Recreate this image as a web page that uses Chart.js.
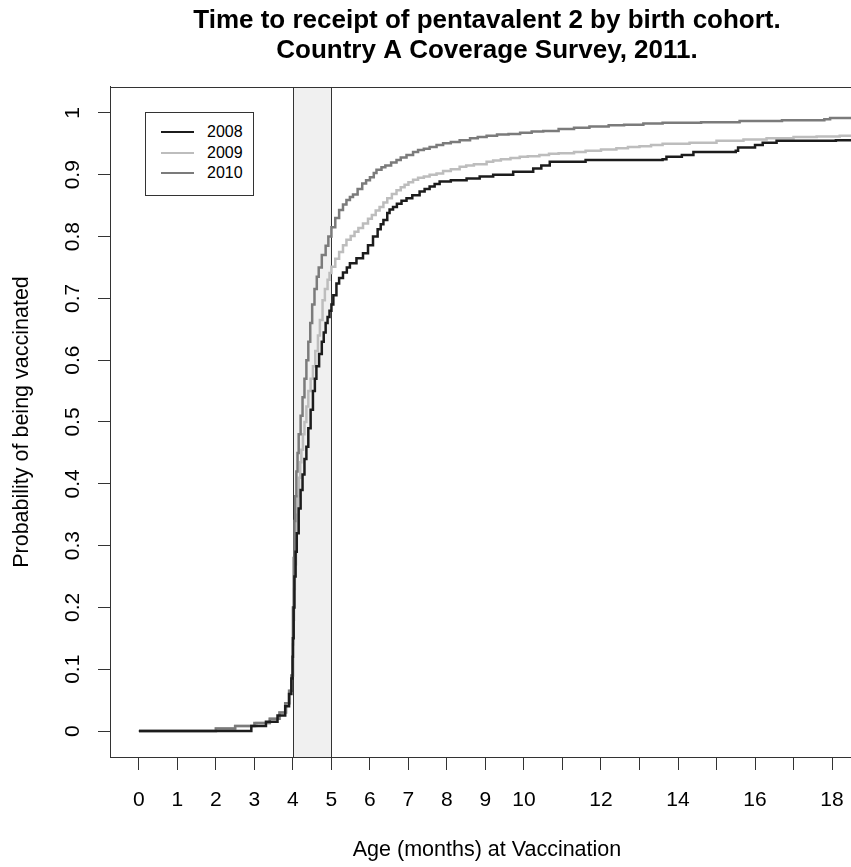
<!DOCTYPE html>
<html>
<head>
<meta charset="utf-8">
<title>Time to receipt of pentavalent 2</title>
<script src="https://cdn.jsdelivr.net/npm/chart.js@4.4.1/dist/chart.umd.min.js"></script>
<style>
  html, body { margin: 0; padding: 0; background: #fff; overflow: hidden; }
  #wrap { position: relative; width: 851px; height: 867px; overflow: hidden; }
  #myChart { position: absolute; left: 0; top: 0; }
  #legend {
    position: absolute; left: 145px; top: 112px; width: 107px; height: 82px;
    border: 1px solid #333; background: #fff;
    font: 16px "Liberation Sans", Arial, sans-serif; color: #000;
  }
  #legend .row { position: absolute; left: 0; width: 100%; height: 20px; line-height: 20px; }
  #legend .swatch { position: absolute; left: 15px; top: 9px; width: 33px; height: 2px; }
  #legend .lbl { position: absolute; left: 61px; top: 0; }
</style>
</head>
<body>
<div id="wrap">
  <canvas id="myChart" width="864" height="867"></canvas>
  <div id="legend"></div>
</div>
<script>
const titleLines = ["Time to receipt of pentavalent 2 by birth cohort.", "Country A Coverage Survey, 2011."];
const xTitle = "Age (months) at Vaccination";
const yTitle = "Probability of being vaccinated";

const cohorts = ["2008", "2009", "2010"];
const lineColors = ["#1c1c1c", "#bdbdbd", "#7b7b7b"];

// age in months / cumulative probability
const age2008 = [0, 2.92, 3.3, 3.6, 3.8, 3.9, 3.96, 3.99, 4.0, 4.02, 4.04, 4.07, 4.1, 4.15, 4.2, 4.25, 4.3, 4.35, 4.4, 4.46, 4.52, 4.57, 4.61, 4.68, 4.75, 4.8, 4.85, 4.9, 4.95, 5.0, 5.05, 5.13, 5.2, 5.3, 5.4, 5.48, 5.65, 5.82, 5.95, 6.08, 6.2, 6.28, 6.35, 6.45, 6.51, 6.6, 6.7, 6.82, 6.95, 7.1, 7.29, 7.42, 7.55, 7.68, 7.81, 8.1, 8.51, 8.85, 9.2, 9.72, 10.24, 10.45, 10.67, 11.6, 13.6, 13.7, 14.1, 14.4, 15.5, 15.56, 16.0, 16.2, 16.56, 18.1, 18.9];
const prob2008 = [0, 0.008, 0.015, 0.025, 0.04, 0.06, 0.085, 0.12, 0.15, 0.2, 0.25, 0.29, 0.32, 0.36, 0.39, 0.415, 0.44, 0.46, 0.49, 0.52, 0.55, 0.57, 0.59, 0.61, 0.63, 0.645, 0.66, 0.67, 0.68, 0.69, 0.705, 0.724, 0.733, 0.742, 0.75, 0.757, 0.765, 0.773, 0.786, 0.8, 0.812, 0.82, 0.827, 0.838, 0.844, 0.848, 0.853, 0.858, 0.862, 0.867, 0.873, 0.877, 0.881, 0.885, 0.889, 0.891, 0.894, 0.897, 0.9, 0.905, 0.91, 0.915, 0.921, 0.924, 0.925, 0.929, 0.932, 0.937, 0.939, 0.944, 0.948, 0.952, 0.955, 0.956, 0.959];

const age2009 = [0, 2.0, 2.5, 3.05, 3.4, 3.66, 3.83, 3.92, 3.97, 4.0, 4.01, 4.03, 4.05, 4.08, 4.1, 4.13, 4.16, 4.19, 4.22, 4.26, 4.3, 4.35, 4.4, 4.46, 4.52, 4.58, 4.65, 4.7, 4.77, 4.83, 4.9, 4.95, 5.0, 5.1, 5.2, 5.3, 5.39, 5.5, 5.6, 5.7, 5.82, 5.95, 6.05, 6.15, 6.25, 6.35, 6.45, 6.57, 6.69, 6.8, 6.9, 7.0, 7.12, 7.25, 7.4, 7.55, 7.73, 7.9, 8.1, 8.33, 8.5, 8.7, 9.03, 9.2, 9.4, 9.65, 9.89, 10.1, 10.4, 10.65, 10.9, 11.3, 11.6, 12.0, 12.4, 12.7, 13.0, 13.3, 13.6, 14.3, 15.0, 15.7, 16.3, 17.0, 17.6, 18.2, 18.9];
const prob2009 = [0, 0.004, 0.008, 0.013, 0.02, 0.03, 0.045, 0.065, 0.09, 0.14, 0.18, 0.23, 0.27, 0.31, 0.35, 0.38, 0.41, 0.435, 0.455, 0.48, 0.5, 0.525, 0.55, 0.57, 0.59, 0.615, 0.64, 0.665, 0.697, 0.715, 0.73, 0.741, 0.751, 0.764, 0.775, 0.786, 0.795, 0.801, 0.808, 0.814, 0.821, 0.829, 0.835, 0.842, 0.848, 0.855, 0.862, 0.869, 0.875, 0.88, 0.884, 0.888, 0.892, 0.895, 0.897, 0.9, 0.902, 0.906, 0.909, 0.913, 0.915, 0.917, 0.921, 0.923, 0.925, 0.927, 0.929, 0.93, 0.932, 0.934, 0.935, 0.937, 0.939, 0.941, 0.943, 0.945, 0.946, 0.948, 0.95, 0.952, 0.955, 0.957, 0.959, 0.961, 0.962, 0.963, 0.964];

const age2010 = [0, 2.0, 2.5, 3.0, 3.4, 3.65, 3.8, 3.9, 3.96, 4.0, 4.02, 4.04, 4.06, 4.09, 4.12, 4.15, 4.2, 4.25, 4.3, 4.35, 4.4, 4.45, 4.5, 4.56, 4.62, 4.67, 4.75, 4.85, 4.92, 5.0, 5.1, 5.2, 5.3, 5.39, 5.48, 5.56, 5.68, 5.8, 5.9, 6.0, 6.1, 6.17, 6.3, 6.4, 6.55, 6.69, 6.8, 6.95, 7.12, 7.25, 7.4, 7.55, 7.73, 7.9, 8.1, 8.33, 8.6, 8.8, 9.03, 9.3, 9.6, 9.9, 10.2, 10.5, 10.9, 11.3, 11.7, 12.2, 12.6, 13.1, 13.6, 14.6, 15.6, 16.7, 17.8, 17.95, 18.9];
const prob2010 = [0, 0.004, 0.008, 0.013, 0.02, 0.03, 0.045, 0.065, 0.09, 0.2, 0.28, 0.34, 0.38, 0.42, 0.45, 0.48, 0.51, 0.54, 0.57, 0.6, 0.63, 0.66, 0.69, 0.715, 0.735, 0.75, 0.77, 0.785, 0.8, 0.815, 0.83, 0.843, 0.852, 0.859, 0.864, 0.868, 0.877, 0.886, 0.891, 0.896, 0.903, 0.908, 0.912, 0.915, 0.92, 0.924, 0.928, 0.932, 0.937, 0.94, 0.942, 0.945, 0.948, 0.951, 0.953, 0.956, 0.959, 0.961, 0.963, 0.965, 0.966, 0.968, 0.97, 0.971, 0.974, 0.976, 0.978, 0.98, 0.981, 0.983, 0.984, 0.985, 0.987, 0.988, 0.99, 0.992, 0.992];

const ages = [age2008, age2009, age2010];
const probs = [prob2008, prob2009, prob2010];

// shaded window, months
const bandStart = 4;
const bandEnd = 5;

const xTickValues = [0, 1, 2, 3, 4, 5, 6, 7, 8, 9, 10, 11, 12, 13, 14, 15, 16, 17, 18];
const xTickLabels = [0, 1, 2, 3, 4, 5, 6, 7, 8, 9, 10, 12, 14, 16, 18];
const yTickValues = [0, 0.1, 0.2, 0.3, 0.4, 0.5, 0.6, 0.7, 0.8, 0.9, 1];

const fontFamily = '"Liberation Sans", Arial, sans-serif';

const makePoints = (xs, ys) => xs.map((x, i) => ({ x: x, y: ys[i] }));

const datasets = cohorts.map((name, i) => ({
  label: name,
  data: makePoints(ages[i], probs[i]),
  borderColor: lineColors[i],
  borderWidth: 2.5,
  stepped: "before",
  pointRadius: 0,
  fill: false,
}));
// 2008 on top, then 2010, then 2009
datasets[0].order = 0;
datasets[1].order = 2;
datasets[2].order = 1;

const bandPlugin = {
  id: "band",
  beforeDatasetsDraw(chart) {
    const { ctx, chartArea } = chart;
    const xs = chart.scales.x;
    const x1 = Math.round(xs.getPixelForValue(bandStart)) + 0.5;
    const x2 = Math.round(xs.getPixelForValue(bandEnd)) + 0.5;
    ctx.save();
    ctx.fillStyle = "#f0f0f0";
    ctx.fillRect(x1, chartArea.top, x2 - x1, chartArea.bottom - chartArea.top);
    ctx.strokeStyle = "#333";
    ctx.lineWidth = 1;
    ctx.beginPath();
    ctx.moveTo(x1, chartArea.top);
    ctx.lineTo(x1, chartArea.bottom);
    ctx.moveTo(x2, chartArea.top);
    ctx.lineTo(x2, chartArea.bottom);
    ctx.stroke();
    ctx.restore();
  },
  afterDraw(chart) {
    const { ctx, chartArea } = chart;
    ctx.save();
    ctx.strokeStyle = "#333";
    ctx.lineWidth = 1;
    ctx.strokeRect(Math.round(chartArea.left) + 0.5, Math.round(chartArea.top) + 0.5,
      chartArea.right - chartArea.left, chartArea.bottom - chartArea.top);
    ctx.restore();
  },
};

const ctx = document.getElementById("myChart").getContext("2d");
const myChart = new Chart(ctx, {
  type: "line",
  data: { datasets: datasets },
  plugins: [bandPlugin],
  options: {
    responsive: false,
    animation: false,
    events: [],
    layout: { padding: 0 },
    plugins: {
      legend: { display: false },
      tooltip: { enabled: false },
      title: {
        display: true,
        text: titleLines,
        fullSize: false,
        color: "#000",
        font: { family: fontFamily, size: 26, weight: "bold", lineHeight: 1.1538 },
        padding: { top: 6, bottom: 21 },
      },
    },
    scales: {
      x: {
        type: "linear",
        min: -0.75,
        max: 18.83,
        afterBuildTicks: (s) => { s.ticks = xTickValues.map((v) => ({ value: v })); },
        afterFit: (s) => { s.height = 110; },
        ticks: {
          autoSkip: false,
          maxRotation: 0,
          color: "#000",
          padding: 18,
          font: { family: fontFamily, size: 21 },
          callback: (v) => (xTickLabels.includes(v) ? String(v) : ""),
        },
        grid: { drawOnChartArea: false, drawTicks: true, tickLength: 13, color: "#333" },
        border: { display: true, color: "#333" },
        title: {
          display: true,
          text: xTitle,
          color: "#000",
          font: { family: fontFamily, size: 21.5, lineHeight: 1.2 },
          padding: { top: 0, bottom: 4 },
        },
      },
      y: {
        type: "linear",
        min: -0.042,
        max: 1.042,
        afterBuildTicks: (s) => { s.ticks = yTickValues.map((v) => ({ value: v })); },
        afterFit: (s) => { s.width = 110; },
        ticks: {
          minRotation: 90,
          maxRotation: 90,
          crossAlign: "center",
          color: "#000",
          padding: 10,
          font: { family: fontFamily, size: 21 },
          callback: (v) => String(+v.toFixed(1)),
        },
        grid: { drawOnChartArea: false, drawTicks: true, tickLength: 12, color: "#333" },
        border: { display: true, color: "#333" },
        title: {
          display: true,
          text: yTitle,
          color: "#000",
          font: { family: fontFamily, size: 21.5, lineHeight: 1.2 },
          padding: { top: 9, bottom: 0 },
        },
      },
    },
  },
});

// legend box, built from the chart's datasets
const legendEl = document.getElementById("legend");
myChart.data.datasets.forEach((ds, i) => {
  const row = document.createElement("div");
  row.className = "row";
  row.style.top = (9 + i * 20.7) + "px";
  const sw = document.createElement("div");
  sw.className = "swatch";
  sw.style.background = ds.borderColor;
  const lbl = document.createElement("span");
  lbl.className = "lbl";
  lbl.textContent = ds.label;
  row.appendChild(sw);
  row.appendChild(lbl);
  legendEl.appendChild(row);
});
</script>
</body>
</html>
